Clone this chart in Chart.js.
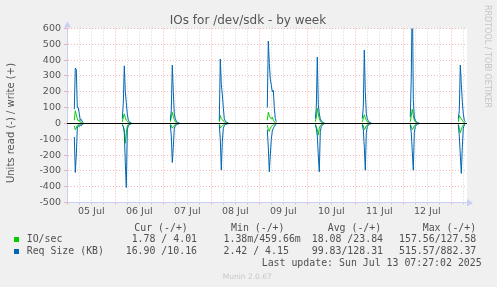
<!DOCTYPE html>
<html>
<head>
<meta charset="utf-8">
<script src="https://cdn.jsdelivr.net/npm/chart.js@4"></script>
<style>
html, body { margin: 0; padding: 0; background: #f0f0f0; }
</style>
</head>
<body>
<canvas id="grafico" width="497" height="287"></canvas>
<script>
// horas contadas a partir de 05 Jul 00:00, uma amostra a cada 30 min
const diasLabels = ['05 Jul', '06 Jul', '07 Jul', '08 Jul', '09 Jul', '10 Jul', '11 Jul', '12 Jul']
const inicioPicos = [3.5, 27.5, 51.5, 76, 100, 124, 147.5, 171.5, 195.5]

// IO/sec escrita (+) e leitura (-)
const ioEscrita = [
    [20, 80, 55, 30, 15, 20, 8, 5, 3, 2],
    [10, 40, 60, 35, 20, 15, 8, 5, 2, 2],
    [10, 40, 70, 45, 25, 10, 5, 3, 2, 1],
    [10, 50, 30, 25, 15, 10, 5, 3, 2, 1],
    [20, 70, 50, 35, 30, 40, 20, 10, 5, 2],
    [10, 40, 95, 60, 30, 15, 8, 5, 2, 1],
    [10, 30, 55, 35, 20, 10, 5, 3, 2, 1],
    [10, 50, 90, 50, 20, 10, 5, 3, 2, 1],
    [10, 50, 40, 30, 20, 10, 5, 3]
]
const ioLeitura = [
    [-15, -40, -30, -12, -8, -10, -5, -3, -2, -1],
    [-5, -20, -40, -125, -60, -15, -8, -5, -2, -1],
    [-5, -15, -30, -20, -12, -8, -4, -2, -1, -1],
    [-5, -30, -20, -15, -10, -5, -3, -2, -1, -1],
    [-10, -40, -50, -30, -20, -15, -10, -5, -3, -1],
    [-5, -20, -40, -74, -30, -15, -8, -5, -2, -1],
    [-5, -15, -40, -30, -15, -8, -4, -2, -1, -1],
    [-5, -20, -40, -30, -15, -8, -4, -2, -1, -1],
    [-5, -30, -60, -40, -20, -10, -5, -3]
]
// Req Size (KB) escrita (+) e leitura (-)
const reqEscrita = [
    [90, 350, 340, 100, 100, 60, 20, 25, 10, 8],
    [30, 128, 364, 200, 130, 60, 20, 10, 5, 5],
    [20, 83, 369, 200, 60, 30, 15, 8, 5, 3],
    [20, 407, 250, 185, 100, 30, 15, 8, 5, 3],
    [100, 520, 380, 280, 242, 200, 210, 100, 30, 10],
    [30, 100, 420, 120, 60, 30, 15, 10, 5, 3],
    [30, 100, 464, 200, 60, 30, 15, 8, 5, 3],
    [40, 300, 882, 150, 40, 20, 10, 5, 3, 2],
    [30, 80, 369, 250, 137, 60, 20, 10]
]
const reqLeitura = [
    [-85, -310, -200, -30, -15, -20, -10, -15, -5, -5],
    [-10, -20, -60, -250, -405, -40, -15, -10, -5, -5],
    [-10, -80, -247, -150, -30, -15, -10, -5, -3, -2],
    [-10, -100, -295, -120, -30, -15, -8, -5, -3, -2],
    [-40, -150, -306, -200, -100, -50, -30, -20, -10, -5],
    [-10, -30, -80, -200, -306, -50, -20, -10, -5, -3],
    [-10, -40, -150, -296, -60, -20, -10, -5, -3, -2],
    [-10, -60, -180, -296, -60, -20, -10, -5, -3, -2],
    [-10, -80, -200, -316, -150, -30, -10, -5]
]

// textos da legenda (Cur, Min, Avg, Max)
const legendaTitulos = ['Cur (-/+)', 'Min (-/+)', 'Avg (-/+)', 'Max (-/+)']
const legendaIO = [' 1.78 / 4.01', '1.38m/459.66m', '18.08 /23.84', '157.56/127.58']
const legendaReq = ['16.90 /10.16', '2.42 / 4.15', '99.83/128.31', '515.57/882.37']

const verde = '#00cc00'
const azul = '#0066b3'

function montaSerie(picos) {//junta os picos em pontos x/y, com null entre eles para quebrar a linha
    let pontos = []
    picos.forEach((valores, p) => {
        valores.forEach((v, i) => pontos.push({ x: inicioPicos[p] + i * 0.5, y: v }))
        pontos.push({ x: inicioPicos[p] + valores.length * 0.5, y: null })
    })
    return pontos
}

const muninPlugin = {
    id: 'muninPlugin',
    beforeDraw(chart) {
        let { ctx, chartArea: a } = chart
        ctx.save()
        ctx.fillStyle = '#f0f0f0'
        ctx.fillRect(0, 0, chart.width, chart.height)
        ctx.fillStyle = '#ffffff'
        ctx.fillRect(a.left, a.top, a.right - a.left, a.bottom - a.top)
        ctx.restore()
    },
    afterDatasetsDraw(chart) {
        let { ctx, chartArea: a, scales } = chart
        let y0 = Math.round(scales.y.getPixelForValue(0)) + 0.5
        ctx.save()
        ctx.strokeStyle = '#000000'
        ctx.lineWidth = 1
        ctx.beginPath()
        ctx.moveTo(a.left, y0)
        ctx.lineTo(a.right, y0)
        ctx.stroke()
        ctx.restore()
    },
    afterDraw(chart) {
        let { ctx, chartArea: a } = chart
        ctx.save()
        // setas dos eixos
        ctx.fillStyle = '#c8cff5'
        ctx.beginPath()
        ctx.moveTo(a.left - 3, a.top - 1)
        ctx.lineTo(a.left + 0.5, a.top - 7)
        ctx.lineTo(a.left + 4, a.top - 1)
        ctx.fill()
        ctx.beginPath()
        ctx.moveTo(a.right, a.bottom - 3.5)
        ctx.lineTo(a.right + 6, a.bottom + 0.5)
        ctx.lineTo(a.right, a.bottom + 4)
        ctx.fill()

        // titulo
        ctx.fillStyle = '#555555'
        ctx.font = '12px "DejaVu Sans"'
        ctx.textAlign = 'center'
        ctx.textBaseline = 'alphabetic'
        ctx.fillText('IOs for /dev/sdk - by week', 248, 24)

        // titulo do eixo y
        ctx.save()
        ctx.translate(14, 123)
        ctx.rotate(-Math.PI / 2)
        ctx.font = '10px "DejaVu Sans"'
        ctx.fillText('Units read (-) / write (+)', 0, 0)
        ctx.restore()

        // marca d'agua do rrdtool
        ctx.save()
        ctx.translate(485, 5)
        ctx.rotate(Math.PI / 2)
        ctx.textAlign = 'left'
        ctx.fillStyle = '#c4c4c4'
        ctx.font = '8px "DejaVu Sans"'
        ctx.fillText('RRDTOOL / TOBI OETIKER', 0, 0)
        ctx.restore()

        // legenda em forma de tabela
        ctx.textAlign = 'left'
        ctx.fillStyle = '#505050'
        ctx.font = '9.9px "DejaVu Sans Mono"'
        let colTitulos = [134.3, 231, 327.7, 422.7]
        let colValores = [125.7, 223.5, 311.7, 399]
        legendaTitulos.forEach((t, i) => ctx.fillText(t, colTitulos[i], 230.5))
        ctx.fillText('IO/sec', 26.7, 242.3)
        ctx.fillText('Req Size (KB)', 26.7, 254)
        legendaIO.forEach((t, i) => ctx.fillText(t, colValores[i], 242.3))
        legendaReq.forEach((t, i) => ctx.fillText(t, colValores[i], 254))
        ctx.fillText('Last update: Sun Jul 13 07:27:02 2025', 261.7, 266.3)
        ctx.fillStyle = verde
        ctx.fillRect(14, 237, 5, 5)
        ctx.fillStyle = azul
        ctx.fillRect(14, 249, 5, 5)

        ctx.fillStyle = '#c8c8c8'
        ctx.font = '7.5px "DejaVu Sans"'
        ctx.fillText('Munin 2.0.67', 222.7, 279)
        ctx.restore()
    }
}

const linha = (label, data, cor) => ({
    label: label,
    data: data,
    borderColor: cor,
    backgroundColor: cor,
    borderWidth: 1,
    pointRadius: 0,
    tension: 0,
    spanGaps: false
})

new Chart('grafico', {
    type: 'line',
    data: {
        datasets: [
            linha('Req Size (KB) read', montaSerie(reqLeitura), azul),
            linha('Req Size (KB) write', montaSerie(reqEscrita), azul),
            linha('IO/sec read', montaSerie(ioLeitura), verde),
            linha('IO/sec write', montaSerie(ioEscrita), verde)
        ]
    },
    options: {
        responsive: false,
        animation: false,
        layout: { padding: { top: 28.5, right: 30, left: 0, bottom: 0 } },
        plugins: {
            legend: { display: false },
            tooltip: { enabled: false },
            title: { display: false }
        },
        scales: {
            x: {
                type: 'linear',
                min: -0.15,
                max: 199.85,
                afterFit: (s) => { s.height = 84.5 },
                afterBuildTicks: (s) => {
                    let t = []
                    for (let h = 0; h < 200; h += 6) t.push({ value: h })
                    s.ticks = t
                },
                grid: {
                    color: (c) => (c.tick && c.tick.value % 24 === 0) ? 'rgba(240,110,110,0.55)' : 'rgba(160,160,160,0.45)',
                    tickLength: 2,
                    lineWidth: 1
                },
                border: { color: '#c8cff5', width: 1, dash: [1, 2] },
                ticks: {
                    autoSkip: false,
                    maxRotation: 0,
                    padding: 1,
                    color: '#555555',
                    font: { family: 'DejaVu Sans', size: 9.5 },
                    callback: (v) => v % 24 === 12 ? diasLabels[(v - 12) / 24] : ''
                }
            },
            y: {
                min: -500,
                max: 600,
                afterFit: (s) => { s.width = 67 },
                grid: {
                    color: 'rgba(240,110,110,0.5)',
                    tickLength: 3,
                    lineWidth: 1
                },
                border: { color: '#c8cff5', width: 1, dash: [1, 2] },
                ticks: {
                    stepSize: 50,
                    padding: 3,
                    color: '#555555',
                    font: { family: 'DejaVu Sans', size: 9.5 },
                    callback: (v) => v % 100 === 0 ? String(v) : ''
                }
            }
        }
    },
    plugins: [muninPlugin]
})
</script>
</body>
</html>
